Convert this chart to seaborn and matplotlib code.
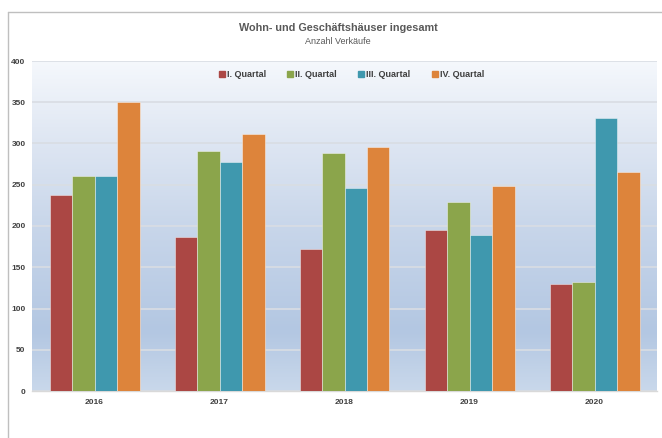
import numpy as np
import pandas as pd
import matplotlib
matplotlib.use("Agg")
import matplotlib.pyplot as plt
from matplotlib.colors import LinearSegmentedColormap
from matplotlib.lines import Line2D
import seaborn as sns

years = ["2016", "2017", "2018", "2019", "2020"]
quarters = ["I. Quartal", "II. Quartal", "III. Quartal", "IV. Quartal"]
q1 = [237, 187, 172, 195, 130]
q2 = [261, 291, 288, 229, 132]
q3 = [261, 278, 246, 189, 331]
q4 = [350, 311, 296, 249, 265]
yticks = [0, 50, 100, 150, 200, 250, 300, 350, 400]
colors = ["#ab4744", "#8ba54b", "#3f98ae", "#dd843b"]

rows = []
for q, vals in zip(quarters, [q1, q2, q3, q4]):
    for y, v in zip(years, vals):
        rows.append({"Jahr": y, "Quartal": q, "Wert": v})
df = pd.DataFrame(rows)

sns.set_theme(style="white")
plt.rcParams["font.family"] = ["Liberation Sans", "DejaVu Sans"]

fig = plt.figure(figsize=(6.62, 4.38), dpi=100)
ax = fig.add_axes([32 / 662, 47 / 438, 625 / 662, 330 / 438])

# background gradient
cmap = LinearSegmentedColormap.from_list(
    "bg",
    [(0.0, "#c9d8eb"), (0.18, "#b3c7e2"), (0.5, "#c8d6ea"), (0.8, "#e2e9f4"), (1.0, "#f5f8fc")],
)
grad = np.linspace(0, 1, 256).reshape(-1, 1)
ax.imshow(grad, cmap=cmap, origin="lower", extent=[0, 1, 0, 1], transform=ax.transAxes,
          aspect="auto", zorder=0)

sns.barplot(data=df, x="Jahr", y="Wert", hue="Quartal", order=years, hue_order=quarters,
            palette=colors, width=0.72, saturation=1, edgecolor=(1, 1, 1, 0.5), linewidth=0.6,
            ax=ax, zorder=3, legend=False)

ax.set_xlim(-0.5, 4.5)
ax.set_ylim(0, 400)
ax.set_yticks(yticks)
ax.yaxis.grid(True, color="#d9dde3", linewidth=1.2, zorder=1)
ax.set_axisbelow(True)
for s in ["top", "right", "left"]:
    ax.spines[s].set_visible(False)
ax.spines["bottom"].set_color("#d9d9d9")
ax.spines["bottom"].set_linewidth(1)
ax.set_xlabel("")
ax.set_ylabel("")
ax.tick_params(axis="both", length=0, labelsize=6.0, labelcolor="#404040")
ax.tick_params(axis="y", pad=4.7)
ax.tick_params(axis="x", pad=6)
for lab in ax.get_xticklabels() + ax.get_yticklabels():
    lab.set_fontweight("bold")

handles = [Line2D([0], [0], marker="s", linestyle="", markersize=4.2, markerfacecolor=c,
                  markeredgecolor=c) for c in colors]
leg = ax.legend(handles, quarters, loc="center", bbox_to_anchor=(0.511, 0.958), ncol=4,
                frameon=False, prop={"size": 6.5, "weight": "bold"}, handlelength=0.6,
                handletextpad=0.25, columnspacing=2.4)
for t in leg.get_texts():
    t.set_color("#404040")

fig.text(338 / 662, 1 - 28 / 438, "Wohn- und Geschäftshäuser ingesamt", ha="center", va="center",
         fontsize=7.8, fontweight="bold", color="#595959")
fig.text(338 / 662, 1 - 42 / 438, "Anzahl Verkäufe", ha="center", va="center",
         fontsize=6.5, color="#595959")

# outer frame
fig.add_artist(Line2D([8 / 662, 1], [1 - 12 / 438, 1 - 12 / 438], transform=fig.transFigure,
                      color="#bfbfbf", linewidth=1))
fig.add_artist(Line2D([8 / 662, 8 / 662], [0, 1 - 12 / 438], transform=fig.transFigure,
                      color="#bfbfbf", linewidth=1))

fig.savefig("out.png", dpi=100, facecolor="white")
